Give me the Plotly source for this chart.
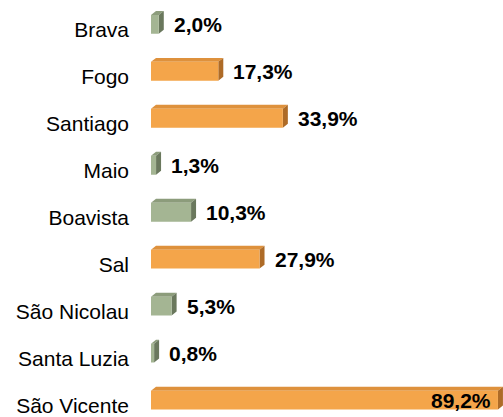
import plotly.graph_objects as go

categories = ["Brava", "Fogo", "Santiago", "Maio", "Boavista", "Sal",
              "São Nicolau", "Santa Luzia", "São Vicente"]
values = [2.0, 17.3, 33.9, 1.3, 10.3, 27.9, 5.3, 0.8, 89.2]
labels = ["2,0%", "17,3%", "33,9%", "1,3%", "10,3%", "27,9%", "5,3%", "0,8%", "89,2%"]
groups = ["g", "o", "o", "g", "g", "o", "g", "g", "o"]

palette = {
    "o": {"front": "#F4A54A", "top": "#DE913C", "side": "#AE6B27"},
    "g": {"front": "#A4B593", "top": "#8C9C7B", "side": "#6A785D"},
}

n = len(categories)
ypos = [n - 1 - i for i in range(n)]

W_PX, H_PX = 503, 417
L, R, T, B = 151, 0, 0, 0
XMAX = 90.5
YMIN, YMAX = -0.296, 8.518
px_x = (W_PX - L - R) / XMAX
px_y = (H_PX - T - B) / (YMAX - YMIN)
dx = 5 / px_x
dy = 4 / px_y
half = 9.5 / px_y

fig = go.Figure()

for g in ["o", "g"]:
    fx, fy, tx, ty, sx, sy = [], [], [], [], [], []
    for v, y, gg in zip(values, ypos, groups):
        if gg != g:
            continue
        y0, y1 = y - half, y + half
        fx += [0, v, v, 0, 0, None]
        fy += [y0, y0, y1, y1, y0, None]
        tx += [0, v, v + dx, dx, 0, None]
        ty += [y1, y1, y1 + dy, y1 + dy, y1, None]
        sx += [v, v + dx, v + dx, v, v, None]
        sy += [y0, y0 + dy, y1 + dy, y1, y0, None]
    for xs, ys, key in [(tx, ty, "top"), (sx, sy, "side"), (fx, fy, "front")]:
        fig.add_trace(go.Scatter(
            x=xs, y=ys, mode="lines", fill="toself",
            fillcolor=palette[g][key], line=dict(width=0, color=palette[g][key]),
            hoverinfo="skip", showlegend=False))

for v, y, lab, c in zip(values, ypos, labels, categories):
    inside = v > 80
    fig.add_annotation(
        x=v, y=y, text=lab, showarrow=False,
        xanchor="right" if inside else "left",
        xshift=-5 if inside else 13, yshift=0,
        font=dict(family="Liberation Sans, Arial", size=21, color="#000000", weight="bold"))

fig.update_layout(
    width=W_PX, height=H_PX,
    margin=dict(l=L, r=R, t=T, b=B, pad=0),
    paper_bgcolor="white", plot_bgcolor="white",
    xaxis=dict(range=[0, XMAX], visible=False, fixedrange=True),
    yaxis=dict(range=[YMIN, YMAX], tickvals=[y - 0.11 for y in ypos], ticktext=categories,
               showgrid=False, zeroline=False, showline=False, ticks="",
               ticklabelstandoff=21, ticklabeloverflow="allow", fixedrange=True,
               tickfont=dict(family="Liberation Sans, Arial", size=21, color="#000000")),
)

fig.write_html("out.html", config={"displayModeBar": False},
               post_script="document.body.style.margin='0';document.body.style.padding='0';")
